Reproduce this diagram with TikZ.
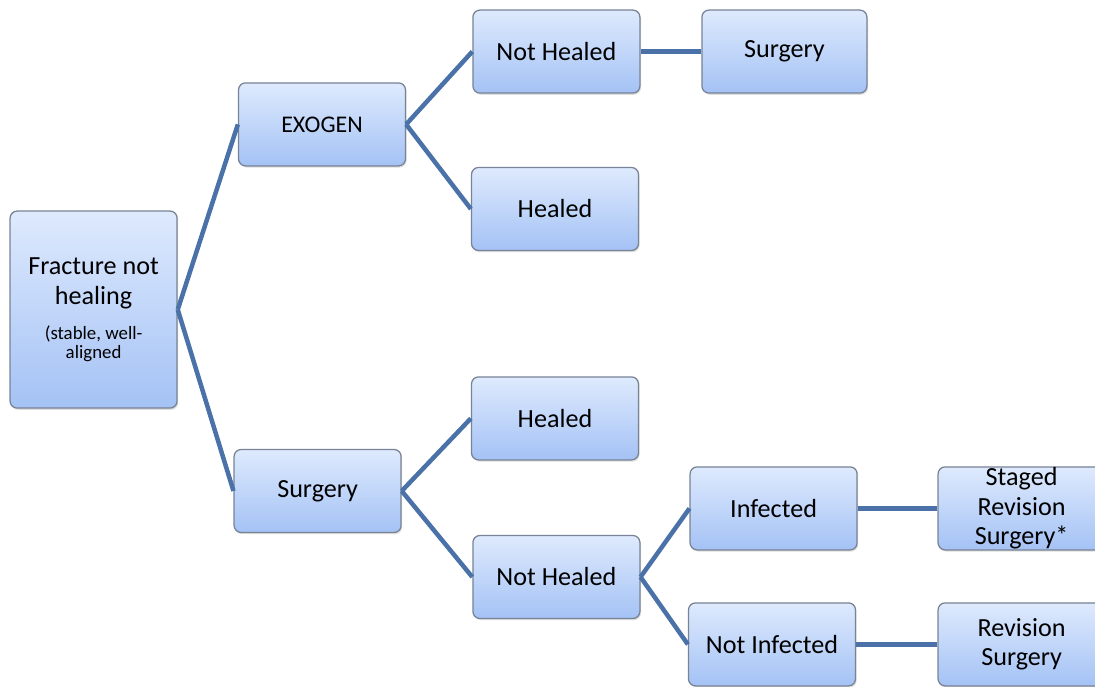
\documentclass[tikz,border=0pt]{standalone}
\usepackage{fontspec}
\setmainfont{Carlito}
\usepackage{tikz}
\usetikzlibrary{shadows}
\definecolor{boxtop}{RGB}{222,234,253}
\definecolor{boxbot}{RGB}{164,194,245}
\definecolor{boxline}{RGB}{120,131,150}
\definecolor{lblue}{RGB}{74,114,168}
\newcommand{\notefont}{\fontsize{13.4}{15}\selectfont}

\begin{document}
\begin{tikzpicture}[font=\fontsize{18.6}{21}\selectfont,
  box/.style={draw=boxline, line width=0.9pt, rounded corners=5pt,
    top color=boxtop, bottom color=boxbot, align=center, inner sep=0pt,
    minimum width=4.175cm, minimum height=2.075cm,
    drop shadow={opacity=0.25, shadow xshift=0.8pt, shadow yshift=-1.2pt}},
  link/.style={lblue, line width=3.2pt}]
  \clip (0,0) rectangle (27.375,17.15);

  % root and first split
  \node[box, minimum height=4.925cm] (frac) at (2.34,9.41)
    {Fracture not\\healing\\[4pt]{\notefont (stable, well-}\\[-7.5pt]{\notefont aligned}};
  \node[box, font=\fontsize{17}{19}\selectfont] (exogen) at (8.05,14.04) {EXOGEN};
  \node[box] (surg) at (7.94,4.875) {Surgery};

  % EXOGEN branch
  \node[box] (nhealA) at (13.91,15.86) {Not Healed};
  \node[box, minimum width=4.125cm] (surgA) at (19.61,15.86) {Surgery};
  \node[box] (healA) at (13.875,11.925) {Healed};

  % Surgery branch
  \node[box] (healB) at (13.875,6.69) {Healed};
  \node[box] (nhealB) at (13.91,2.725) {Not Healed};
  \node[box] (infec) at (19.34,4.44) {Infected};
  \node[box] (staged) at (25.54,4.44) {Staged\\Revision\\Surgery*};
  \node[box] (ninfec) at (19.3,1.04) {Not Infected};
  \node[box] (revis) at (25.54,1.04) {Revision\\Surgery};

  \foreach \a/\b in {frac/exogen, frac/surg, exogen/nhealA, exogen/healA,
    nhealA/surgA, surg/healB, surg/nhealB, nhealB/infec, nhealB/ninfec,
    infec/staged, ninfec/revis}
    \draw[link] (\a.east) -- (\b.west);
\end{tikzpicture}
\end{document}
